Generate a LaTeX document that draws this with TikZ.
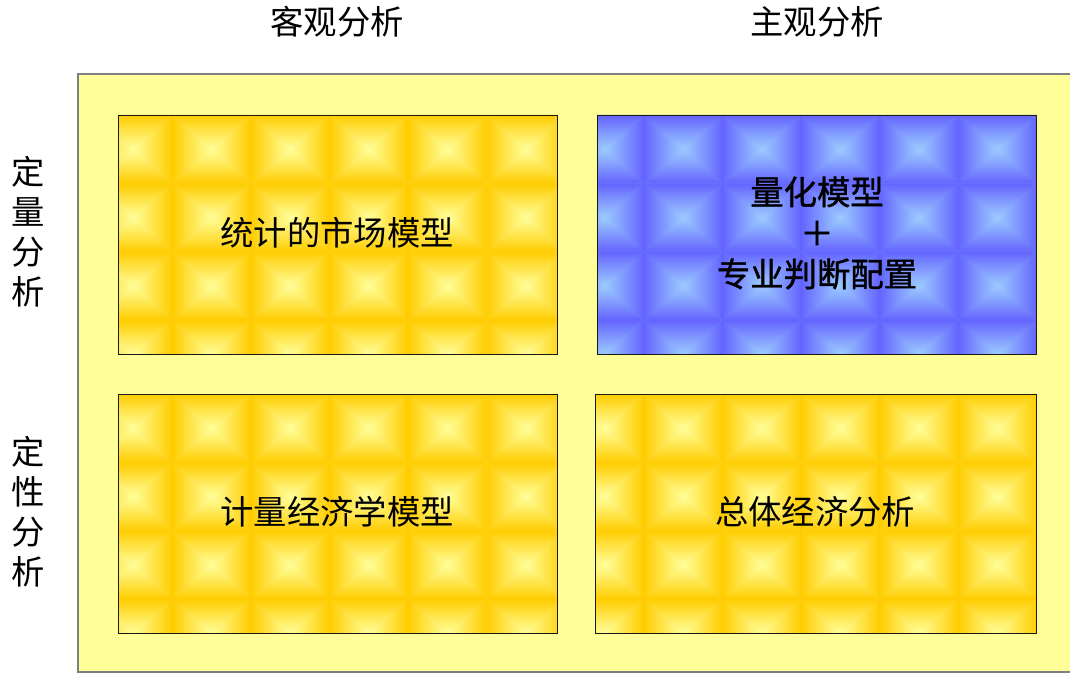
\documentclass[tikz,border=0pt]{standalone}
\usepackage{fontspec}
\newfontfamily\cjk{Noto Sans CJK SC}
\newfontfamily\cjkheavy{Noto Sans CJK SC}[FakeBold=1.2]
\definecolor{ydark}{HTML}{FFCC00}
\definecolor{ybright}{HTML}{FFFF9C}
\definecolor{bdark}{HTML}{6464FF}
\definecolor{bbright}{HTML}{9CCCFF}
\definecolor{bgyellow}{HTML}{FFFF99}
\definecolor{framegray}{HTML}{7F7F7F}
\tikzset{
  lbl/.style={font=\cjk\fontsize{25}{30}\selectfont, text=black, inner sep=0pt, align=center},
  boxline/.style={draw=black!90, line width=1.1pt},
  outerframe/.style={fill=bgyellow, draw=framegray, line width=1.1pt}
}
% #1 x1, #2 y1, #3 x2, #4 y2 (pixels, y downwards), #5 dark, #6 bright, #7 first column, #8 last column
\newcommand\tilebox[8]{%
  \fill[#5!50!#6] (#1,-#2) rectangle (#3,-#4);
  \begin{scope}
    \clip (#1,-#2) rectangle (#3,-#4);
    \foreach \k in {#7,...,#8} {
      \foreach \j in {0,...,3} {
        \pgfmathsetmacro\L{172+78.6*\k}
        \pgfmathsetmacro\R{\L+78.6}
        \pgfmathsetmacro\T{-#2-68.3*\j}
        \pgfmathsetmacro\B{\T-68.3}
        \pgfmathsetmacro\Cx{\L+39.3}
        \pgfmathsetmacro\Cy{\T-34.15}
        \shade[top color=#5, bottom color=#6] (\L,\T) -- (\R,\T) -- (\Cx,\Cy) -- cycle;
        \shade[top color=#6, bottom color=#5] (\L,\B) -- (\R,\B) -- (\Cx,\Cy) -- cycle;
        \shade[left color=#5, right color=#6] (\L,\T) -- (\L,\B) -- (\Cx,\Cy) -- cycle;
        \shade[left color=#6, right color=#5] (\R,\T) -- (\R,\B) -- (\Cx,\Cy) -- cycle;
      }
    }
  \end{scope}
}
\begin{document}
\begin{tikzpicture}[x=0.75pt, y=0.75pt]
  \useasboundingbox (0,0) rectangle (1070,-673);
  \fill[white] (0,0) rectangle (1070,-673);
  % outer frame
  \path[outerframe] (78,-74) rectangle (1080,-672);
  % tiled boxes
  \tilebox{118}{115}{557}{354}{ydark}{ybright}{-1}{4}
  \tilebox{597}{115}{1036}{354}{bdark}{bbright}{5}{10}
  \tilebox{118}{394}{557}{633}{ydark}{ybright}{-1}{4}
  \tilebox{595}{394}{1036}{633}{ydark}{ybright}{5}{10}
  \node[boxline, minimum width=439*0.75pt, minimum height=239*0.75pt, inner sep=0pt, anchor=north west] (tl) at (118,-115) {};
  \node[boxline, minimum width=439*0.75pt, minimum height=239*0.75pt, inner sep=0pt, anchor=north west] (tr) at (597,-115) {};
  \node[boxline, minimum width=439*0.75pt, minimum height=239*0.75pt, inner sep=0pt, anchor=north west] (bl) at (118,-394) {};
  \node[boxline, minimum width=441*0.75pt, minimum height=239*0.75pt, inner sep=0pt, anchor=north west] (br) at (595,-394) {};
  % headers
  \node[lbl] (h1) at (337,-22) {客观分析};
  \node[lbl] (h2) at (817,-22) {主观分析};
  % side labels
  \node[lbl] (s1) at (28,-232) {定\\量\\分\\析};
  \node[lbl] (s2) at (28,-512) {定\\性\\分\\析};
  % box texts
  \node[lbl] (t1) at (337,-233) {统计的市场模型};
  \node[lbl, font=\cjkheavy\fontsize{25}{30.75}\selectfont] (t2) at (817,-233) {量化模型\\＋\\专业判断配置};
  \node[lbl] (t3) at (337,-512) {计量经济学模型};
  \node[lbl] (t4) at (815,-512) {总体经济分析};
\end{tikzpicture}
\end{document}
